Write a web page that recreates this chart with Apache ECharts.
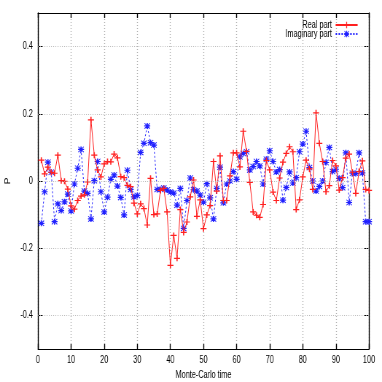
<!DOCTYPE html>
<html>
<head>
<meta charset="utf-8">
<script src="https://cdn.jsdelivr.net/npm/echarts@6/dist/echarts.min.js"></script>
<style>
html,body{margin:0;padding:0;background:#fff;overflow:hidden;width:382px;height:382px;}
#chart{position:absolute;left:0;top:0;width:524px;height:382px;transform:scaleX(0.729);transform-origin:0 0;}
</style>
</head>
<body>
<div id="chart"></div>
<script>
// Monte-Carlo time steps 1..100
var realPart = [
  0.062, 0.021, 0.041, 0.026, 0.023, 0.077, 0.001, -0.001, -0.024, -0.074,
  -0.084, -0.058, -0.045, -0.041, -0.003, 0.182, 0.077, 0.033, 0.012, 0.051,
  0.058, 0.057, 0.080, 0.069, 0.013, 0.010, -0.013, -0.017, -0.066, -0.098,
  -0.068, -0.082, -0.131, 0.008, -0.100, -0.098, -0.028, -0.022, -0.092, -0.251,
  -0.162, -0.230, -0.085, -0.153, -0.122, -0.047, 0.003, -0.105, -0.056, -0.142,
  -0.101, -0.073, 0.058, -0.030, 0.075, -0.058, -0.058, 0.015, 0.084, 0.084,
  0.042, 0.148, 0.088, -0.004, -0.092, -0.102, -0.108, -0.070, 0.061, 0.033,
  -0.033, -0.058, 0.009, 0.056, 0.082, 0.102, 0.087, -0.085, -0.056, 0.012,
  0.062, 0.036, -0.025, 0.203, 0.112, 0.058, -0.032, -0.014, 0.061, 0.045,
  -0.027, 0.010, 0.068, 0.080, 0.026, -0.037, 0.028, 0.060, -0.025, -0.028
];
var imagPart = [
  -0.126, -0.032, 0.056, 0.026, -0.121, -0.068, -0.088, -0.062, -0.039, -0.089,
  -0.009, 0.038, 0.094, -0.030, -0.037, -0.113, 0.001, 0.058, -0.032, -0.092,
  -0.048, 0.005, 0.018, -0.015, -0.049, -0.101, 0.032, -0.025, -0.047, -0.043,
  0.085, 0.112, 0.164, 0.114, 0.107, -0.025, -0.025, -0.021, -0.027, -0.033,
  -0.036, -0.072, -0.022, -0.141, -0.058, 0.009, -0.026, -0.030, -0.042, -0.063,
  -0.008, -0.050, -0.113, -0.022, 0.041, -0.065, -0.009, 0.000, 0.028, 0.005,
  0.072, 0.082, 0.087, 0.033, 0.043, 0.058, 0.045, -0.009, 0.065, 0.090,
  0.058, 0.027, 0.034, -0.057, -0.019, 0.027, -0.006, 0.010, 0.087, 0.110,
  0.148, 0.040, 0.000, -0.030, -0.016, 0.000, 0.055, 0.100, 0.028, 0.035,
  0.008, -0.020, 0.084, -0.064, 0.023, 0.022, 0.084, 0.024, -0.121, -0.121
];
var seriesNames = ['Real part', 'Imaginary part'];
var yTicks = [-0.4, -0.2, 0, 0.2, 0.4];
var xLabel = 'Monte-Carlo time';
var yLabel = 'P';

function pairs(arr) {
  return arr.map(function (v, i) { return [i + 1, v]; });
}

// the page is drawn wide and squeezed horizontally by S (narrow gnuplot-style text)
var S = 0.729;
var FONT = "'Liberation Sans', Arial, sans-serif";
var plusPath = 'path://M4,0H6V4H10V6H6V10H4V6H0V4H4Z';
var starPath = 'path://M4,0H6V4H10V6H6V10H4V6H0V4H4Z M0,1L1,0L10,9L9,10Z M9,0L10,1L1,10L0,9Z';

var chart = echarts.init(document.getElementById('chart'), null, {renderer: 'canvas'});
var hLine = {color: '#000', width: 1};
var vLine = {color: '#000', width: 1 / S};
var hGrid = {color: '#b0b0b0', type: [1, 2], width: 1};
var vGrid = {color: '#b0b0b0', type: [1, 2], width: 1 / S};

var option = {
  animation: false,
  backgroundColor: '#fff',
  grid: {left: 38 / S, right: 13 / S, top: 13, bottom: 33, containLabel: false, outerBoundsMode: 'none'},
  legend: {
    data: seriesNames,
    orient: 'vertical',
    right: 20 / S,
    top: 15,
    align: 'right',
    itemWidth: 22 / S,
    itemHeight: 8,
    itemGap: -1,
    textStyle: {fontFamily: FONT, fontSize: 10, color: '#000'}
  },
  xAxis: [{
    type: 'value', min: 0, max: 100, interval: 10,
    name: xLabel, nameLocation: 'middle', nameGap: 21,
    nameTextStyle: {fontFamily: FONT, fontSize: 10, color: '#000'},
    axisLine: {show: true, onZero: false, lineStyle: hLine},
    axisTick: {show: true, inside: true, length: 5, lineStyle: vLine},
    axisLabel: {fontFamily: FONT, fontSize: 10, color: '#000', margin: 6},
    splitLine: {show: true, lineStyle: vGrid}
  }, {
    type: 'value', min: 0, max: 100, interval: 10, position: 'top',
    axisLine: {show: true, onZero: false, lineStyle: hLine},
    axisTick: {show: true, inside: true, length: 5, lineStyle: vLine},
    axisLabel: {show: false},
    splitLine: {show: false}
  }],
  yAxis: [{
    type: 'value', min: -0.5, max: 0.5, interval: 0.1,
    name: yLabel, nameLocation: 'middle', nameGap: 36, nameRotate: 90,
    nameTextStyle: {fontFamily: FONT, fontSize: 10, color: '#000'},
    axisLine: {show: true, onZero: false, lineStyle: vLine},
    axisTick: {show: true, inside: true, length: 5 / S, lineStyle: hLine, customValues: yTicks},
    axisLabel: {fontFamily: FONT, fontSize: 10, color: '#000', margin: 7, customValues: yTicks,
      formatter: function (v) { return Math.abs(v) < 1e-9 ? '0' : String(Math.round(v * 10) / 10); }},
    splitLine: {show: false}
  }, {
    type: 'value', min: -0.5, max: 0.5, interval: 0.1, position: 'right',
    axisLine: {show: true, onZero: false, lineStyle: vLine},
    axisTick: {show: true, inside: true, length: 5 / S, lineStyle: hLine, customValues: yTicks},
    axisLabel: {show: false},
    splitLine: {show: false}
  }],
  series: [{
    name: 'grid',
    type: 'line',
    data: [],
    silent: true,
    z: 0,
    markLine: {
      silent: true,
      symbol: ['none', 'none'],
      label: {show: false},
      lineStyle: hGrid,
      animation: false,
      data: yTicks.map(function (t) { return {yAxis: t}; })
    }
  }, {
    name: seriesNames[0],
    type: 'line',
    data: pairs(realPart),
    z: 3,
    symbol: plusPath,
    symbolSize: [6 / S, 6],
    showAllSymbol: true,
    lineStyle: {color: '#ff2020', width: 1},
    itemStyle: {color: '#ff2020'}
  }, {
    name: seriesNames[1],
    type: 'line',
    data: pairs(imagPart),
    z: 2,
    symbol: starPath,
    symbolSize: [6 / S, 6],
    showAllSymbol: true,
    lineStyle: {color: '#2020ff', width: 1, type: [2, 2]},
    itemStyle: {color: '#2020ff'}
  }]
};
chart.setOption(option);
</script>
</body>
</html>
